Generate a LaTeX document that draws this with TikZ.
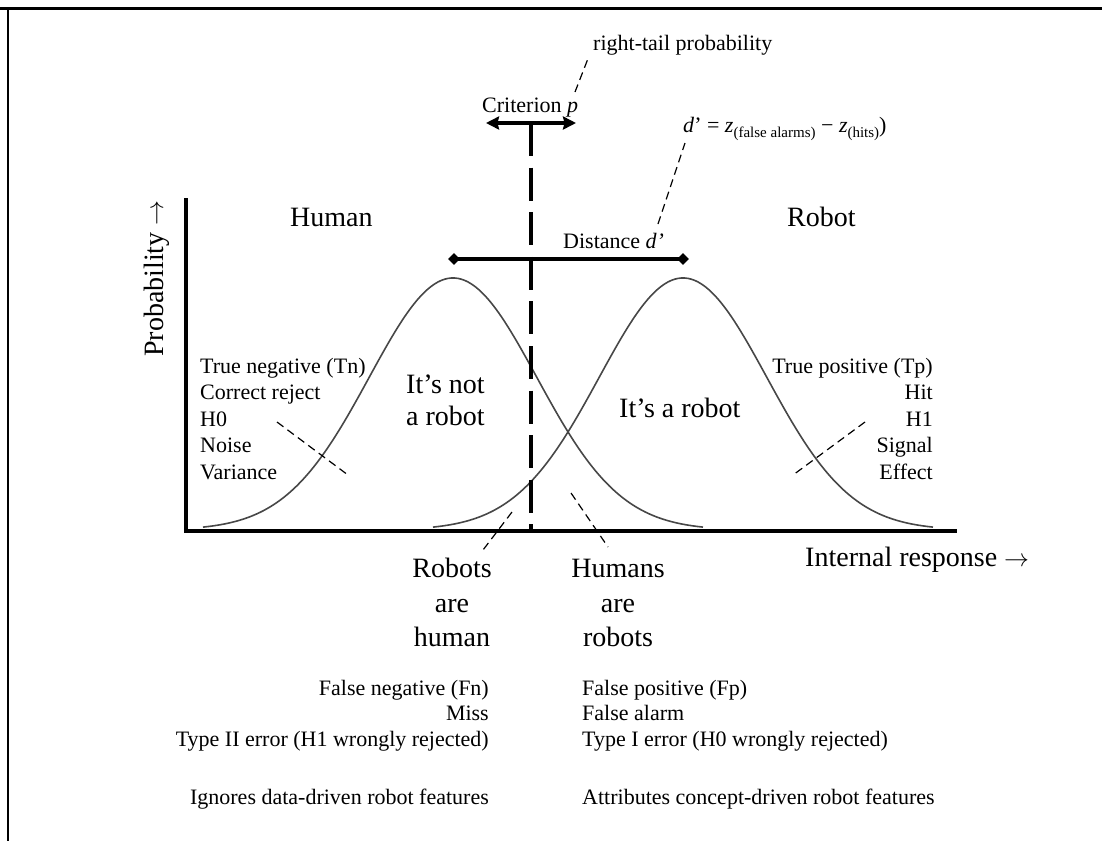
\documentclass[tikz,border=0pt]{standalone}
\usepackage{fontspec}
\setmainfont{Liberation Serif}
\usetikzlibrary{arrows.meta,shapes.geometric}
\begin{document}
\begin{tikzpicture}[x=1pt,y=-1pt,
  sm/.style={inner sep=0pt, font=\fontsize{22}{26}\selectfont},
  lg/.style={inner sep=0pt, font=\fontsize{28}{34}\selectfont},
  axisline/.style={line width=3.6pt, line join=miter},
  bell/.style={line width=1.6pt, draw=black!72},
  leader/.style={line width=1.2pt, dash pattern=on 8pt off 5pt},
  critline/.style={line width=4pt, dash pattern=on 33pt off 11.6pt},
  dmark/.style={diamond, fill=black, inner sep=0pt, minimum size=12pt},
  critarrow/.style={line width=4pt, >={Stealth[length=13pt,width=13pt,inset=1.5pt]}, <->}
]
\useasboundingbox (0,0) rectangle (1102,841);
% frame
\draw[line width=3pt] (0,8.5) -- (1102,8.5);
\draw[line width=2pt] (8,8.5) -- (8,841);

% axes
\coordinate (ytop) at (186,198);
\coordinate (origin) at (186,531);
\coordinate (xend) at (957,531);
\draw[axisline] (ytop) -- (origin) -- (xend);

% bell curves
\draw[bell] plot[domain=203:703, samples=150] (\x,{530-252*exp(-(((\x-453)/100)^2)/1.401)});
\draw[bell] plot[domain=433:933, samples=150] (\x,{530-252*exp(-(((\x-683)/100)^2)/1.401)});

% criterion
\coordinate (cl) at (486,123);
\coordinate (cr) at (576,123);
\coordinate (ctop) at (531,123);
\coordinate (cbot) at (531,531);
\draw[critarrow] (cl) -- (cr);
\draw[critline] (ctop) -- (cbot);

% distance
\node[dmark] (dl) at (454,259) {};
\node[dmark] (dr) at (683,259) {};
\draw[line width=3.3pt] (dl.center) -- (dr.center);

% texts at top
\node[sm, anchor=base west] (rtp) at (593,50) {right-tail probability};
\node[sm, anchor=base west] (crit) at (482,112) {Criterion \textit{p}};
\node[sm, anchor=base west] (dform) at (683,132) {\textit{d}’ = \textit{z}\raisebox{-5pt}{\fontsize{15}{15}\selectfont(false alarms)} − \textit{z}\raisebox{-5pt}{\fontsize{15}{15}\selectfont(hits)})};
\node[sm, anchor=base west] (dist) at (563,248) {Distance \textit{d’}};
\node[lg, anchor=base west] (human) at (290,226) {Human};
\node[lg, anchor=base west] (robot) at (787,226) {Robot};
\node[lg, anchor=base west, rotate=90] (prob) at (163,357) {Probability $\rightarrow$};
\node[lg, anchor=base west] (intr) at (805,566) {Internal response $\rightarrow$};

% left stack
\node[sm, anchor=base west] (tn1) at (200,373) {True negative (Tn)};
\node[sm, anchor=base west] (tn2) at (200,399.5) {Correct reject};
\node[sm, anchor=base west] (tn3) at (200,426) {H0};
\node[sm, anchor=base west] (tn4) at (200,452.5) {Noise};
\node[sm, anchor=base west] (tn5) at (200,479) {Variance};
% right stack
\node[sm, anchor=base east] (tp1) at (933,373) {True positive (Tp)};
\node[sm, anchor=base east] (tp2) at (933,399.5) {Hit};
\node[sm, anchor=base east] (tp3) at (933,426) {H1};
\node[sm, anchor=base east] (tp4) at (933,452.5) {Signal};
\node[sm, anchor=base east] (tp5) at (933,479) {Effect};

% region labels
\node[lg, anchor=base west] (nr1) at (406,393) {It’s not};
\node[lg, anchor=base west] (nr2) at (406,425) {a robot};
\node[lg, anchor=base west] (ar) at (619,417) {It’s a robot};

\node[lg, anchor=base] (rh1) at (452,577) {Robots};
\node[lg, anchor=base] (rh2) at (452,612) {are};
\node[lg, anchor=base] (rh3) at (452,646) {human};
\node[lg, anchor=base] (hr1) at (618,577) {Humans};
\node[lg, anchor=base] (hr2) at (618,612) {are};
\node[lg, anchor=base] (hr3) at (618,646) {robots};

% bottom columns
\node[sm, anchor=base east] (fn1) at (489,695) {False negative (Fn)};
\node[sm, anchor=base east] (fn2) at (489,720) {Miss};
\node[sm, anchor=base east] (fn3) at (489,746) {Type II error (H1 wrongly rejected)};
\node[sm, anchor=base east] (fn4) at (489,804) {Ignores data-driven robot features};
\node[sm, anchor=base west] (fp1) at (582,695) {False positive (Fp)};
\node[sm, anchor=base west] (fp2) at (582,720) {False alarm};
\node[sm, anchor=base west] (fp3) at (582,746) {Type I error (H0 wrongly rejected)};
\node[sm, anchor=base west] (fp4) at (582,804) {Attributes concept-driven robot features};

% leaders
\coordinate (l1a) at (575,92);  \coordinate (l1b) at (589,56);
\coordinate (l2a) at (658,224); \coordinate (l2b) at (685,143);
\coordinate (l3a) at (277,422); \coordinate (l3b) at (348,475);
\coordinate (l4a) at (865,422); \coordinate (l4b) at (793,475);
\coordinate (l5a) at (512,512); \coordinate (l5b) at (483,550);
\coordinate (l6a) at (571,493); \coordinate (l6b) at (608,547);
\draw[leader] (l1a) -- (l1b);
\draw[leader] (l2a) -- (l2b);
\draw[leader] (l3a) -- (l3b);
\draw[leader] (l4a) -- (l4b);
\draw[leader] (l5a) -- (l5b);
\draw[leader] (l6a) -- (l6b);
\end{tikzpicture}
\end{document}
